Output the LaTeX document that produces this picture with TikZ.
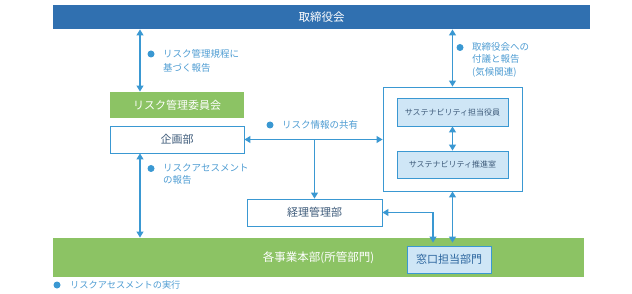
\documentclass[tikz,border=0pt]{standalone}
\usepackage{fontspec}
\setmainfont{Noto Sans CJK JP}
\usetikzlibrary{arrows.meta, positioning}
\usepackage{xcolor}
\definecolor{board}{HTML}{3070B0}
\definecolor{grn}{HTML}{8CC364}
\definecolor{edge}{HTML}{3A98D2}
\definecolor{lbox}{HTML}{CFE6F6}
\definecolor{txt}{HTML}{3E5B7A}
\definecolor{lbltxt}{HTML}{4E9CD2}
\tikzset{
  n/.style={draw=edge, line width=0.9pt, align=center, inner sep=0pt, fill=white, text=txt,
    font=\fontsize{11}{13}\selectfont},
  nl/.style={n, fill=lbox, font=\fontsize{8}{10}\selectfont},
  ng/.style={n, draw=none, fill=grn, text=white},
  bar/.style={n, draw=none, fill=board, text=white, font=\fontsize{11.5}{13}\selectfont},
  a/.style={-{Triangle[length=6pt, width=7pt]}, draw=edge, line width=1.1pt},
  aa/.style={a, {Triangle[length=6pt, width=7pt]}-{Triangle[length=6pt, width=7pt]}},
  dot/.style={circle, fill=edge, inner sep=0pt, minimum size=7pt},
  lbl/.style={anchor=west, align=left, inner sep=0pt, text=lbltxt},
}
\begin{document}
\begin{tikzpicture}[x=1pt, y=-1pt]
\useasboundingbox (0,0) rectangle (632,294);

% organisation
\node[bar, minimum width=537pt, minimum height=24pt] (board) at (321.5,17) {取締役会};
\node[ng,  minimum width=134pt, minimum height=26pt] (rmc)   at (177,105) {リスク管理委員会};
\node[n,   minimum width=134pt, minimum height=27pt] (plan)  at (177,139.5) {企画部};
\node[n,   minimum width=135pt, minimum height=27pt] (acct)  at (314.5,212.5) {経理管理部};
\node[n,   minimum width=139pt, minimum height=104pt] (sus) at (452.5,139) {};
\node[nl,  minimum width=111pt, minimum height=28pt] (exec)  at (452.5,112) {サステナビリティ担当役員};
\node[nl,  minimum width=111pt, minimum height=27pt] (promo) at (452.5,164.5) {サステナビリティ推進室};
\node[ng,  minimum width=531pt, minimum height=39pt, font=\fontsize{11.5}{13}\selectfont] (div) at (318.5,257.5) {各事業本部(所管部門)};
\node[nl,  minimum width=84pt,  minimum height=27pt, font=\fontsize{11}{13}\selectfont, text=board!90!black] (win) at (449,259.5) {窓口担当部門};

\coordinate (cl) at (140,0);
\coordinate (cw) at (433,0);

% connectors
\draw[aa] (cl |- board.south) -- (cl |- rmc.north);
\draw[aa] (cl |- plan.south)  -- (cl |- div.north);
\draw[aa] (plan.east) -- (plan.east -| sus.west);
\draw[a]  (acct.north |- plan.east) -- (acct.north);
\draw[aa] (sus.north |- board.south) -- (sus.north);
\draw[aa] (exec.south) -- (promo.north);
\draw[aa, shorten >=3pt] (sus.south) -- (sus.south |- win.north);
\draw[aa, shorten >=3pt] (acct.east) -| (cw |- win.north);

% labels
\node[dot] (d1) at (151,54) {};
\node[lbl, font=\fontsize{9.5}{13.4}\selectfont] (l1) at (163,61) {リスク管理規程に\\基づく報告};
\node[dot] (d2) at (460,47.5) {};
\node[lbl, font=\fontsize{9.5}{12.5}\selectfont] (l2) at (472,59.5) {取締役会への\\付議と報告\\(気候関連)};
\node[dot] (d3) at (270,125) {};
\node[lbl, font=\fontsize{9.5}{12}\selectfont] (l3) at (282,125) {リスク情報の共有};
\node[dot] (d4) at (151,168.5) {};
\node[lbl, font=\fontsize{9.5}{12}\selectfont] (l4) at (163,174.5) {リスクアセスメント\\の報告};
\node[dot] (d5) at (57,285) {};
\node[lbl, font=\fontsize{9.2}{12}\selectfont] (l5) at (70,285) {リスクアセスメントの実行};
\end{tikzpicture}
\end{document}
